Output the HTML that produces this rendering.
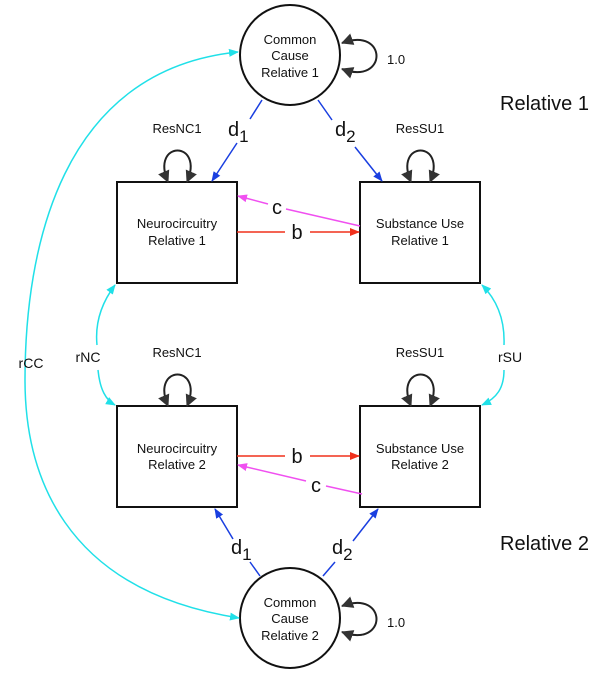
<!DOCTYPE html>
<html><head><style>body{margin:0;background:#fff}svg{display:block}text{font-family:"Liberation Sans",sans-serif}</style></head><body>
<svg width="604" height="676" viewBox="0 0 604 676">
<defs>
<marker id="k" markerWidth="12" markerHeight="12" refX="11" refY="6" orient="auto-start-reverse" markerUnits="userSpaceOnUse"><path d="M0,0L12,6L0,12z" fill="#333"/></marker>
<marker id="bl" markerWidth="10" markerHeight="10" refX="9" refY="5" orient="auto" markerUnits="userSpaceOnUse"><path d="M0,1L10,5L0,9z" fill="#1a3fe0"/></marker>
<marker id="r" markerWidth="10" markerHeight="10" refX="9" refY="5" orient="auto" markerUnits="userSpaceOnUse"><path d="M0,1L10,5L0,9z" fill="#f0301c"/></marker>
<marker id="m" markerWidth="10" markerHeight="10" refX="9" refY="5" orient="auto" markerUnits="userSpaceOnUse"><path d="M0,1L10,5L0,9z" fill="#f050f0"/></marker>
<marker id="cy" markerWidth="10" markerHeight="10" refX="9" refY="5" orient="auto-start-reverse" markerUnits="userSpaceOnUse"><path d="M0,1L10,5L0,9z" fill="#20e0e8"/></marker>
</defs>
<g fill="none" stroke="#111" stroke-width="2">
<circle cx="290" cy="55" r="50" fill="#fff"/>
<circle cx="290" cy="618" r="50" fill="#fff"/>
<rect x="117" y="182" width="120" height="101"/>
<rect x="360" y="182" width="120" height="101"/>
<rect x="117" y="406" width="120" height="101"/>
<rect x="360" y="406" width="120" height="101"/>
</g>
<g fill="none" stroke="#222" stroke-width="2">
<path d="M168,182 C150,140 205,140 187,182" marker-start="url(#k)" marker-end="url(#k)"/>
<path d="M411,182 C393,140 448,140 430,182" marker-start="url(#k)" marker-end="url(#k)"/>
<path d="M168,406 C150,364 205,364 187,406" marker-start="url(#k)" marker-end="url(#k)"/>
<path d="M411,406 C393,364 448,364 430,406" marker-start="url(#k)" marker-end="url(#k)"/>
<path d="M342,69 C388,86 388,26 342,43" marker-start="url(#k)" marker-end="url(#k)"/>
<path d="M342,632 C388,649 388,589 342,606" marker-start="url(#k)" marker-end="url(#k)"/>
</g>
<g fill="none" stroke-width="1.5">
<path d="M262,100 L250,119 M237,143 L212,181" stroke="#1a3fe0" marker-end="url(#bl)"/>
<path d="M318,100 L332,120 M355,147 L382,181" stroke="#1a3fe0" marker-end="url(#bl)"/>
<path d="M260,576 L250,562 M233,539 L215,509" stroke="#1a3fe0" marker-end="url(#bl)"/>
<path d="M323,576 L335,562 M353,541 L378,509" stroke="#1a3fe0" marker-end="url(#bl)"/>
<path d="M237,232 L285,232 M310,232 L359,232" stroke="#f0301c" marker-end="url(#r)"/>
<path d="M237,456 L285,456 M310,456 L359,456" stroke="#f0301c" marker-end="url(#r)"/>
<path d="M360,226 L286,209 M268,204 L238,196" stroke="#f050f0" marker-end="url(#m)"/>
<path d="M362,494 L326,486 M306,481 L238,465" stroke="#f050f0" marker-end="url(#m)"/>
<path d="M239,618 C60,590 25,470 25,380 C25,250 60,70 238,52" stroke="#20e0e8" marker-start="url(#cy)" marker-end="url(#cy)"/>
<path d="M115,285 C100,305 95,325 97,345 M98,370 C100,390 106,400 115,405" stroke="#20e0e8" marker-start="url(#cy)" marker-end="url(#cy)"/>
<path d="M482,285 C497,300 505,320 504,345 M504,370 C504,388 497,398 482,405" stroke="#20e0e8" marker-start="url(#cy)" marker-end="url(#cy)"/>
</g>
<g font-size="13" text-anchor="middle" fill="#111">
<text x="290" y="44">Common</text><text x="290" y="60">Cause</text><text x="290" y="77">Relative 1</text>
<text x="290" y="607">Common</text><text x="290" y="623">Cause</text><text x="290" y="640">Relative 2</text>
<text x="177" y="228">Neurocircuitry</text><text x="177" y="245">Relative 1</text>
<text x="420" y="228">Substance Use</text><text x="420" y="245">Relative 1</text>
<text x="177" y="453">Neurocircuitry</text><text x="177" y="469">Relative 2</text>
<text x="420" y="453">Substance Use</text><text x="420" y="469">Relative 2</text>
<text x="177" y="133">ResNC1</text><text x="420" y="133">ResSU1</text>
<text x="177" y="357">ResNC1</text><text x="420" y="357">ResSU1</text>
<text x="387" y="64" text-anchor="start">1.0</text><text x="387" y="627" text-anchor="start">1.0</text>
<text x="31" y="368" font-size="14">rCC</text><text x="88" y="362" font-size="14">rNC</text><text x="510" y="362" font-size="14">rSU</text>
</g>
<g font-size="20" fill="#111">
<text x="297" y="239" text-anchor="middle">b</text><text x="297" y="463" text-anchor="middle">b</text>
<text x="277" y="214" text-anchor="middle">c</text><text x="316" y="492" text-anchor="middle">c</text>
<text x="228" y="136">d<tspan font-size="17" dy="6">1</tspan></text>
<text x="335" y="136">d<tspan font-size="17" dy="6">2</tspan></text>
<text x="231" y="554">d<tspan font-size="17" dy="6">1</tspan></text>
<text x="332" y="554">d<tspan font-size="17" dy="6">2</tspan></text>
<text x="500" y="110">Relative 1</text><text x="500" y="550">Relative 2</text>
</g>
</svg>
</body></html>
